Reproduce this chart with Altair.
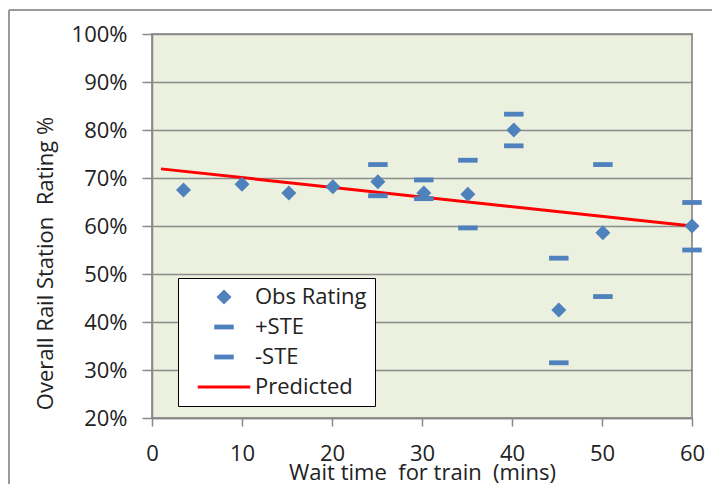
import altair as alt
import pandas as pd

# Observed data
wait_obs = [3.5, 10, 15.2, 20.1, 25.1, 30.2, 35.1, 40.2, 45.2, 50.1, 60]
rating_obs = [67.5, 68.7, 66.9, 68.2, 69.2, 66.9, 66.6, 80.0, 42.5, 58.6, 60.0]

# Standard error bars (only where shown)
wait_ste = [25.1, 30.2, 35.1, 40.2, 45.2, 50.1, 60]
plus_ste = [72.8, 69.6, 73.7, 83.3, 53.3, 72.8, 64.9]
minus_ste = [66.3, 65.7, 59.6, 76.7, 31.5, 45.3, 55.0]

# Predicted line
wait_pred = [1, 60]
rating_pred = [71.9, 60.0]

series = ["Obs Rating", "+STE", "-STE", "Predicted"]
blue = "#4F81BD"
red = "#FF0000"
FONT = "Open Sans"
FS = 22

rows = []
for w, r in zip(wait_obs, rating_obs):
    rows.append({"wait": w, "rating": r, "series": "Obs Rating"})
for w, p, m in zip(wait_ste, plus_ste, minus_ste):
    rows.append({"wait": w, "rating": p, "series": "+STE"})
    rows.append({"wait": w, "rating": m, "series": "-STE"})
pts = pd.DataFrame(rows)
pred = pd.DataFrame({"wait": wait_pred, "rating": rating_pred, "series": "Predicted"})

diamond = "M0,-1L1,0L0,1L-1,0Z"
dash = "M-1.3,-0.32H1.3V0.32H-1.3Z"
redline = "M-3.5,-0.2H3.5V0.2H-3.5Z"

color = alt.Color("series:N", scale=alt.Scale(domain=series, range=[blue, blue, blue, red]),
                  legend=alt.Legend(title=None, orient="none", legendX=26, legendY=244,
                                    fillColor="white", strokeColor="black", padding=8,
                                    labelFontSize=FS, labelFont=FONT, labelColor="#222",
                                    symbolSize=225, rowPadding=8, labelOffset=20,
                                    symbolOffset=27, symbolOpacity=1, symbolStrokeWidth=0,
                                    labelLimit=250))
shape = alt.Shape("series:N", scale=alt.Scale(domain=series, range=[diamond, dash, dash, redline]),
                  legend=alt.Legend(title=None))

NB = "\u00a0"
xs = alt.X("wait:Q", scale=alt.Scale(domain=[0, 60], nice=False),
           axis=alt.Axis(values=[0, 10, 20, 30, 40, 50, 60],
                         title=f"Wait time {NB}for train {NB}(mins)",
                         grid=False, tickSize=8, labelPadding=17, labelFlush=False,
                         titleBaseline="alphabetic", titleY=61))
ys = alt.Y("rating:Q", scale=alt.Scale(domain=[20, 100], nice=False),
           axis=alt.Axis(values=[20, 30, 40, 50, 60, 70, 80, 90, 100], labelExpr="datum.value + '%'",
                         title=f"Overall Rail Station {NB}Rating %", tickSize=10, labelPadding=15,
                         labelFlush=False,
                         titleX=-107, titleY=229, titleBaseline="middle", titleAlign="center",
                         titleAngle=270))

line = alt.Chart(pred).mark_line(color=red, strokeWidth=3).encode(x=xs, y=ys, color=color)
points = alt.Chart(pts).mark_point(filled=True, opacity=1, size=225).encode(
    x="wait:Q", y="rating:Q", color=color, shape=shape)

one = pd.DataFrame({"a": [0]})
left_border = alt.Chart(one).mark_rule(color="#9a9a9a", strokeWidth=2, clip=False).encode(
    x=alt.value(-143), y=alt.value(-24), y2=alt.value(480))
top_border = alt.Chart(one).mark_rule(color="#9a9a9a", strokeWidth=2, clip=False).encode(
    x=alt.value(-143), x2=alt.value(700), y=alt.value(-24))

chart = alt.layer(left_border, top_border, line, points).properties(
    width=540, height=384,
    autosize=alt.AutoSizeParams(type="none"),
    padding={"left": 144, "top": 26, "right": 20, "bottom": 66},
    background="white",
).configure_view(fill="#EBF0DF", stroke="#999999", strokeWidth=2).configure_axis(
    labelFont=FONT, titleFont=FONT, labelFontSize=FS, titleFontSize=FS,
    labelColor="#222", titleColor="#222", titleFontWeight="normal",
    domainColor="#888", tickColor="#888", domainWidth=1.5, tickWidth=1.5,
    gridColor="#8c8c8c", gridWidth=1.5,
).configure_axisY(grid=True)

chart.save("out.html", embed_options={"renderer": "svg", "actions": False})
